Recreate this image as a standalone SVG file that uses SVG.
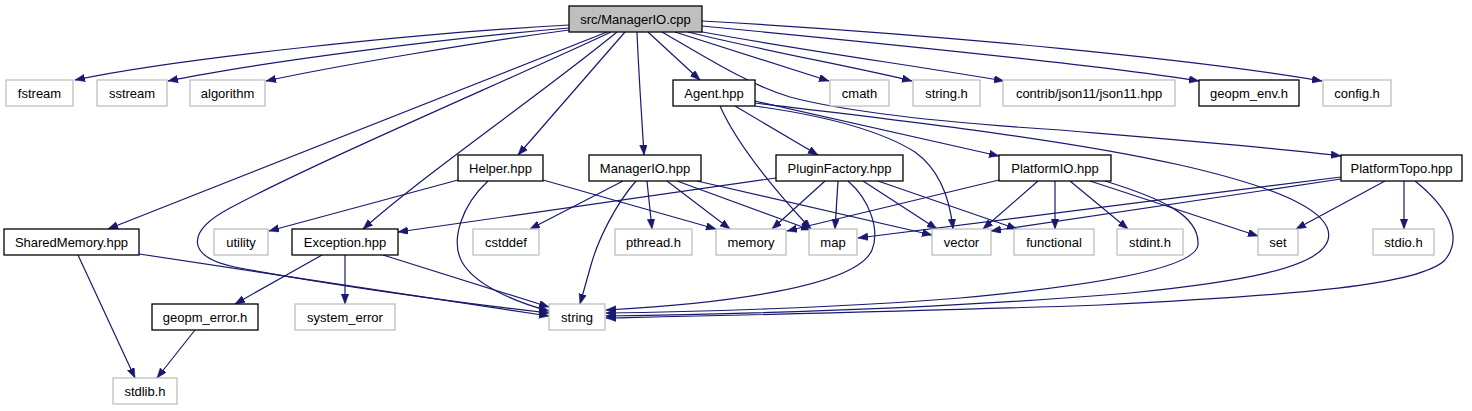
<svg xmlns="http://www.w3.org/2000/svg" width="1472" height="411" viewBox="0 0 1472 411">
<defs>
<marker id="ah" markerUnits="userSpaceOnUse" markerWidth="11" markerHeight="8" refX="10" refY="3.75" orient="auto">
<path d="M0,0 L10,3.75 L0,7.5 z" fill="#191970" stroke="#191970" stroke-width="0.5"/>
</marker>
</defs>
<style>
rect.k{fill:#ffffff;stroke:#000000;stroke-width:1.3}
rect.g{fill:#ffffff;stroke:#bfbfbf;stroke-width:1.3}
rect.r{fill:#bfbfbf;stroke:#000000;stroke-width:1.3}
text{font-family:"Liberation Sans",Arial,sans-serif;font-size:13px;fill:#000;text-anchor:middle}
#edges path{fill:none;stroke:#191970;stroke-width:1.2;marker-end:url(#ah)}
</style>
<rect width="1472" height="411" fill="#ffffff"/>
<g id="edges">
<path d="M569,25 C420,33 180,58 75,80"/>
<path d="M569,28 C450,38 260,62 168,81"/>
<path d="M569,30 C480,42 340,65 266,81"/>
<path d="M607,32 L108,229"/>
<path d="M611,32 C520,75 320,160 230,208 C185,232 185,258 240,268 C330,285 460,303 549,313"/>
<path d="M617,32 C540,95 430,170 363,229"/>
<path d="M625,32 L518,155"/>
<path d="M637,32 C639,80 642,120 644,155"/>
<path d="M648,32 L700,80"/>
<path d="M675,32 L829,81"/>
<path d="M688,32 C760,50 860,68 912,81"/>
<path d="M697,31 C800,50 930,68 1004,81"/>
<path d="M702,26 C900,45 1100,65 1199,81"/>
<path d="M702,21 C950,35 1200,60 1322,81"/>
<path d="M662,32 C710,60 750,85 790,97 C850,113 950,123 1060,130 C1180,140 1280,148 1341,156"/>
<path d="M755,103 C880,118 1060,138 1180,165 C1290,190 1335,215 1328,240 C1320,268 1240,282 1130,293 C950,308 750,314 606,316"/>
<path d="M720,106 C735,140 770,185 811,229"/>
<path d="M735,106 L818,155"/>
<path d="M755,106 C820,115 880,130 915,152 C940,170 950,200 953,229"/>
<path d="M755,101 L999,156"/>
<path d="M458,180 L269,231"/>
<path d="M488,181 C462,205 450,240 462,262 C475,285 515,302 549,311"/>
<path d="M543,180 L716,229"/>
<path d="M623,181 L530,229"/>
<path d="M636,181 C615,205 598,240 591,265 L580,304"/>
<path d="M647,181 L652,229"/>
<path d="M667,181 L730,229"/>
<path d="M677,181 L811,230"/>
<path d="M697,181 L932,235"/>
<path d="M776,178 L398,232"/>
<path d="M825,181 L772,229"/>
<path d="M838,181 L835,229"/>
<path d="M848,181 C870,200 880,230 872,250 C855,290 700,305 606,310"/>
<path d="M863,181 L937,229"/>
<path d="M878,181 L1017,229"/>
<path d="M999,180 L787,231"/>
<path d="M1038,181 L983,229"/>
<path d="M1055,181 L1055,229"/>
<path d="M1070,181 L1128,229"/>
<path d="M1090,181 L1258,236"/>
<path d="M1105,181 C1160,198 1200,215 1198,245 C1195,268 1100,285 960,298 C850,307 700,312 606,313"/>
<path d="M1341,177 L858,238"/>
<path d="M1341,179 L991,231"/>
<path d="M1385,181 L1296,229"/>
<path d="M1404,181 L1404,229"/>
<path d="M1415,181 C1445,205 1465,235 1445,260 C1420,285 1300,295 1100,305 C900,312 700,316 606,318"/>
<path d="M322,255 L235,304"/>
<path d="M345,255 L345,304"/>
<path d="M383,255 L549,307"/>
<path d="M78,255 L135,378"/>
<path d="M139,254 L549,316"/>
<path d="M195,330 L157,378"/>
</g>
<g id="n_root"><rect class="r" x="569" y="6" width="133" height="26"/><text x="635.5" y="23.5">src/ManagerIO.cpp</text></g>
<g id="n_fstream"><rect class="g" x="6" y="80" width="67" height="26"/><text x="39.5" y="97.5">fstream</text></g>
<g id="n_sstream"><rect class="g" x="97" y="80" width="70" height="26"/><text x="132" y="97.5">sstream</text></g>
<g id="n_algorithm"><rect class="g" x="190" y="80" width="75" height="26"/><text x="227.5" y="97.5">algorithm</text></g>
<g id="n_agent"><rect class="k" x="673" y="80" width="82" height="26"/><text x="714" y="97.5">Agent.hpp</text></g>
<g id="n_cmath"><rect class="g" x="830" y="80" width="59" height="26"/><text x="859.5" y="97.5">cmath</text></g>
<g id="n_stringh"><rect class="g" x="913" y="80" width="67" height="26"/><text x="946.5" y="97.5">string.h</text></g>
<g id="n_json11"><rect class="g" x="1003" y="80" width="172" height="26"/><text x="1089" y="97.5">contrib/json11/json11.hpp</text></g>
<g id="n_geopm_env"><rect class="k" x="1199" y="80" width="100" height="26"/><text x="1249" y="97.5">geopm_env.h</text></g>
<g id="n_config"><rect class="g" x="1323" y="80" width="68" height="26"/><text x="1357" y="97.5">config.h</text></g>
<g id="n_helper"><rect class="k" x="458" y="155" width="85" height="26"/><text x="500.5" y="172.5">Helper.hpp</text></g>
<g id="n_managerio_hpp"><rect class="k" x="589" y="155" width="112" height="26"/><text x="645" y="172.5">ManagerIO.hpp</text></g>
<g id="n_pluginfactory"><rect class="k" x="776" y="155" width="127" height="26"/><text x="839.5" y="172.5">PluginFactory.hpp</text></g>
<g id="n_platformio"><rect class="k" x="999" y="155" width="112" height="26"/><text x="1055" y="172.5">PlatformIO.hpp</text></g>
<g id="n_platformtopo"><rect class="k" x="1341" y="155" width="121" height="26"/><text x="1401.5" y="172.5">PlatformTopo.hpp</text></g>
<g id="n_sharedmemory"><rect class="k" x="4" y="229" width="135" height="26"/><text x="71.5" y="246.5">SharedMemory.hpp</text></g>
<g id="n_utility"><rect class="g" x="214" y="229" width="54" height="26"/><text x="241" y="246.5">utility</text></g>
<g id="n_exception"><rect class="k" x="292" y="229" width="106" height="26"/><text x="345" y="246.5">Exception.hpp</text></g>
<g id="n_cstddef"><rect class="g" x="473" y="229" width="66" height="26"/><text x="506" y="246.5">cstddef</text></g>
<g id="n_pthread"><rect class="g" x="615" y="229" width="77" height="26"/><text x="653.5" y="246.5">pthread.h</text></g>
<g id="n_memory"><rect class="g" x="716" y="229" width="70" height="26"/><text x="751" y="246.5">memory</text></g>
<g id="n_map"><rect class="g" x="809" y="229" width="48" height="26"/><text x="833" y="246.5">map</text></g>
<g id="n_vector"><rect class="g" x="932" y="229" width="59" height="26"/><text x="961.5" y="246.5">vector</text></g>
<g id="n_functional"><rect class="g" x="1014" y="229" width="80" height="26"/><text x="1054" y="246.5">functional</text></g>
<g id="n_stdint"><rect class="g" x="1117" y="229" width="66" height="26"/><text x="1150" y="246.5">stdint.h</text></g>
<g id="n_set"><rect class="g" x="1258" y="229" width="40" height="26"/><text x="1278" y="246.5">set</text></g>
<g id="n_stdio"><rect class="g" x="1373" y="229" width="61" height="26"/><text x="1403.5" y="246.5">stdio.h</text></g>
<g id="n_geopm_error"><rect class="k" x="152" y="304" width="106" height="26"/><text x="205" y="321.5">geopm_error.h</text></g>
<g id="n_system_error"><rect class="g" x="295" y="304" width="100" height="26"/><text x="345" y="321.5">system_error</text></g>
<g id="n_string"><rect class="g" x="549" y="304" width="56" height="26"/><text x="577" y="321.5">string</text></g>
<g id="n_stdlib"><rect class="g" x="113" y="378" width="64" height="26"/><text x="145" y="395.5">stdlib.h</text></g>
</svg>
